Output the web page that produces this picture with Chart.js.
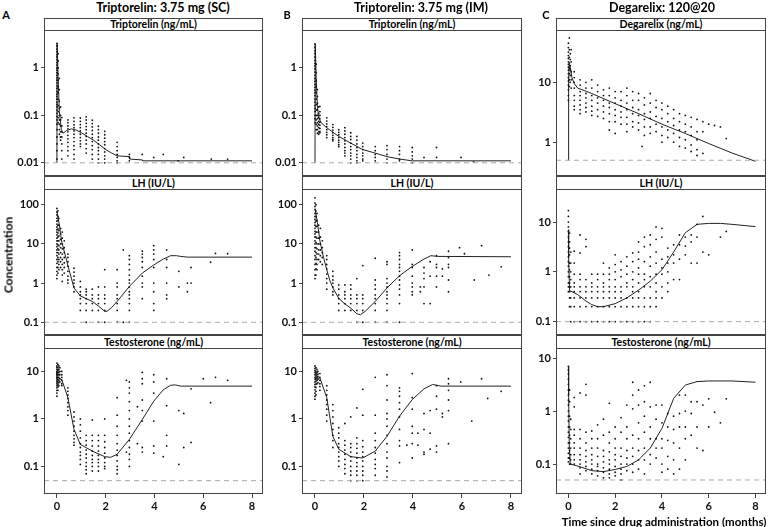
<!DOCTYPE html>
<html>
<head>
<meta charset="utf-8">
<script src="https://cdn.jsdelivr.net/npm/chart.js@4.4.1/dist/chart.umd.min.js"></script>
<style>
  body { margin: 0; background: #fff; width: 770px; height: 527px; position: relative; overflow: hidden; font-family: Lato, "DejaVu Sans", sans-serif; }
  canvas { position: absolute; }
  .strip { position: absolute; box-sizing: border-box; border: 1px solid #444; background: #fff; text-align: center; font-weight: bold; font-size: 10.5px; }
  .lbl { position: absolute; font-weight: bold; white-space: nowrap; transform: translate(-50%, -50%); }
</style>
</head>
<body>
<script>
// ---- data (time in months) ----
var xTicks = [0, 2, 4, 6, 8];
var xTickLabels = ["0", "2", "4", "6", "8"];

// Triptorelin 3.75 mg SC
var trpScTrpObs = [
  [0, [3.3,2.9,2.5,2.2,1.9,1.7,1.5,1.3,1.15,1.0,0.9,0.8,0.7,0.62,0.55,0.48,0.42,0.37,0.32,0.28,0.25,0.22,0.19,0.17,0.15,0.13,0.11,0.095,0.08,0.065,0.05,0.035,0.025,0.018,0.012]],
  [0.05, [2.0,1.4,1.0,0.75,0.55,0.4,0.3,0.22,0.16,0.12,0.09,0.07]],
  [0.1, [0.6,0.35,0.2,0.14,0.1,0.08,0.065,0.05,0.04]],
  [0.15, [0.15,0.1,0.08,0.06,0.045,0.035,0.03]],
  [0.2, [0.09,0.06,0.045,0.035,0.025,0.018,0.012]],
  [0.45, [0.08,0.07,0.06,0.052,0.045,0.038,0.032,0.027,0.022,0.018,0.014]],
  [0.7, [0.089,0.075,0.063,0.055,0.047,0.04,0.034,0.028,0.023,0.019,0.015,0.012]],
  [0.96, [0.088,0.075,0.064,0.055,0.047,0.04,0.034,0.029,0.025,0.022]],
  [1.2, [0.093,0.08,0.068,0.058,0.05,0.042,0.036,0.03,0.025,0.02,0.016]],
  [1.45, [0.079,0.067,0.057,0.048,0.04,0.034,0.028,0.023,0.019,0.015,0.012]],
  [1.7, [0.059,0.05,0.042,0.035,0.03,0.025,0.021,0.018,0.015,0.012,0.01]],
  [1.96, [0.046,0.039,0.033,0.028,0.024,0.02,0.017,0.014,0.012,0.01]],
  [2.47, [0.027,0.022,0.018,0.015,0.013,0.011,0.01]],
  [2.97, [0.015,0.013,0.011]],
  [3.5, [0.015]], [3.97, [0.013]], [4.36, [0.015]], [4.97, [0.011]],
  [5.2, [0.013]], [6.33, [0.012]], [7.0, [0.012]]
];
var trpScTrpFit = [[0,0.01],[0.01,3.3],[0.05,0.6],[0.1,0.12],[0.18,0.05],[0.25,0.042],[0.4,0.048],[0.6,0.052],[0.8,0.049],[1.0,0.043],[1.25,0.036],[1.5,0.03],[1.75,0.024],[2.0,0.019],[2.25,0.016],[2.47,0.014],[2.97,0.0135],[2.98,0.012],[3.5,0.0115],[3.51,0.011],[8,0.011]];

var trpScLhObs = [
  [0, [80,65,55,45,38,32,27,23,20,17,14,12,10,8.5,7,6,5,4,3.2,2.5,2,1.6,1.3]],
  [0.04, [70,50,40,30,24,19,15,12,9.5,7.5,6,4.5,3.5,2.5,1.8]],
  [0.08, [45,30,22,16,12,9,7,5.5,4,3,2.2]],
  [0.15, [25,18,13,10,8,6,4.5,3.5,2.5]],
  [0.22, [20,14,10,7.5,5.5,4,3,2.2,1.6,1.1]],
  [0.3, [12,8,6,4.5,3.3,2.5,1.8]],
  [0.45, [5.5,4.5,3.5,2.7,2.0,1.5,1.2,1.0]],
  [0.7, [2.4,1.9,1.5,1.2,1.0,0.8,0.6]],
  [0.96, [1.1,0.8,0.6,0.5,0.4,0.3,0.2]],
  [1.2, [0.7,0.6,0.5,0.4,0.3,0.2,0.1]],
  [1.45, [0.7,0.5,0.4,0.3,0.2]],
  [1.7, [0.8,0.5,0.4,0.3,0.2,0.1]],
  [1.96, [2.2,0.8,0.5,0.4,0.3,0.2,0.1]],
  [2.47, [2.2,1.0,0.8,0.5,0.4,0.3,0.2,0.1]],
  [2.72, [7,0.1]],
  [2.97, [5,4,3,2.2,1.6,1.2,1.0,0.8,0.6,0.5,0.4,0.3,0.2,0.1]],
  [3.5, [6.5,5.5,4.5,3.5,2.5,1.5,1.0,0.8,0.4]],
  [3.97, [9,7,5.5,4,2.5,1.0,0.6,0.3,0.2]],
  [4.5, [7,4,2.5,1.0,0.5,0.4]],
  [5.0, [2.0,0.8]], [5.35, [1.0,0.6]], [5.5, [2.5,1.0]],
  [6.3, [3.4]], [6.5, [5.7]], [7.0, [5.6]]
];
var trpScLhFit = [[0,70],[0.1,30],[0.2,11],[0.3,6.5],[0.45,2.8],[0.7,0.75],[0.96,0.47],[1.2,0.4],[1.45,0.34],[1.7,0.26],[1.96,0.19],[2.05,0.19],[2.25,0.24],[2.47,0.34],[2.97,0.82],[3.5,1.8],[3.97,2.9],[4.36,4.1],[4.66,5.0],[4.9,5.0],[5.07,4.8],[5.34,4.6],[8,4.6]];

var trpScTestoObs = [
  [0, [15,13,12,11,10,9.5,9,8.5,8,7.5,7,6.5,6,5.5,5,4.5,4,3.5,3]],
  [0.04, [14,12,10.5,9.5,8.5,7.5,6.8,6,5.3,4.7,4]],
  [0.08, [13,11,9.5,8.5,7.5,6.5,5.8,5]],
  [0.12, [12,10,8.5,7,6]],
  [0.2, [10,8.5,7.5,6.5,5.5,5]],
  [0.45, [4.5,3.8,3.2,2.7,2.2,1.8,1.5,1.2]],
  [0.7, [1.4,1.1,0.9,0.7,0.55,0.45,0.38,0.32,0.28]],
  [0.96, [1.0,0.75,0.55,0.4,0.3,0.25,0.2,0.17,0.14,0.11]],
  [1.2, [0.45,0.35,0.28,0.22,0.18,0.15,0.12,0.1,0.085,0.07]],
  [1.45, [0.95,0.45,0.35,0.27,0.21,0.17,0.14,0.12,0.1,0.08]],
  [1.7, [0.45,0.35,0.27,0.21,0.17,0.14,0.12,0.1,0.08]],
  [1.96, [1.0,0.45,0.33,0.25,0.19,0.15,0.12,0.1,0.09]],
  [2.47, [2.8,1.2,0.7,0.45,0.3,0.22,0.17,0.13,0.1,0.085,0.07]],
  [2.85, [6.5,0.2]],
  [2.97, [6,4.5,3.5,2.3,1.5,1.0,0.7,0.5,0.35,0.25,0.18,0.14,0.1]],
  [3.3, [1.8,0.3]],
  [3.5, [9.5,7,5.5,2.5,1.5,0.9,0.25,0.2]],
  [3.97, [8.5,6,3.5,0.9,0.27,0.19]],
  [4.36, [0.16]], [4.5, [7,1.9,0.45,0.27]],
  [5.0, [1.5,0.11]], [5.2, [1.3,0.25]], [5.5, [4.3,0.32]],
  [6.0, [7]], [6.3, [2.2]], [6.5, [7.5]], [7.0, [6.5]]
];
var trpScTestoFit = [[0,7.5],[0.2,6.7],[0.45,2.8],[0.7,0.6],[0.96,0.29],[1.45,0.21],[1.96,0.16],[2.2,0.155],[2.47,0.18],[2.97,0.37],[3.5,0.97],[3.97,2.36],[4.36,4.1],[4.66,5.1],[4.85,5.2],[5.07,4.9],[8,4.9]];

// Triptorelin 3.75 mg IM
var trpImTrpObs = [
  [0, [3.2,2.7,2.3,2.0,1.7,1.45,1.25,1.1,0.95,0.82,0.7,0.6,0.52,0.45,0.39,0.34,0.3,0.26,0.22,0.19,0.16,0.14,0.12,0.1,0.085,0.07]],
  [0.05, [1.2,0.8,0.55,0.4,0.3,0.22,0.17,0.13,0.1,0.08,0.065,0.05]],
  [0.1, [0.35,0.25,0.18,0.13,0.1,0.085,0.07,0.06,0.05,0.042]],
  [0.15, [0.15,0.11,0.09,0.075,0.065,0.055,0.045,0.04]],
  [0.2, [0.155,0.12,0.1,0.085,0.072,0.062,0.053,0.046,0.043]],
  [0.48, [0.089,0.076,0.066,0.058,0.05,0.044,0.039,0.034]],
  [0.73, [0.064,0.056,0.049,0.043,0.038,0.034,0.031,0.029]],
  [0.97, [0.05,0.044,0.039,0.034,0.03,0.027,0.024,0.022]],
  [1.22, [0.055,0.047,0.04,0.034,0.029,0.025,0.021,0.018,0.016,0.014]],
  [1.46, [0.043,0.036,0.031,0.026,0.022,0.019,0.016,0.014,0.012,0.01]],
  [1.71, [0.036,0.03,0.025,0.021,0.018,0.015,0.013,0.011,0.01]],
  [1.95, [0.026,0.022,0.019,0.016,0.014,0.012,0.011]],
  [2.46, [0.022,0.018,0.015,0.013,0.011]],
  [2.94, [0.023,0.019,0.015,0.012,0.01]],
  [3.45, [0.022,0.018,0.015,0.012,0.011]],
  [3.97, [0.021,0.017,0.014,0.012,0.01]],
  [4.45, [0.013]], [4.96, [0.021,0.013]], [5.96, [0.013]], [6.47, [0.0105]]
];
var trpImTrpFit = [[0,0.01],[0.01,3.2],[0.05,0.6],[0.1,0.15],[0.15,0.09],[0.25,0.07],[0.48,0.055],[0.97,0.036],[1.46,0.026],[1.95,0.019],[2.46,0.016],[2.94,0.0135],[3.45,0.012],[3.97,0.011],[8,0.011]];

var trpImLhObs = [
  [0, [150,110,90,75,60,50,42,35,30,25,21,18,15,12,10,8,6.5,5,4,3,2.2,1.6,1.3]],
  [0.04, [100,70,50,38,28,20,15,11,8,6,4.5,3.2,2.3,1.6]],
  [0.08, [60,40,28,20,14,10,7.5,5.5,4,3,2.2]],
  [0.15, [30,20,14,10,7,5.5,4]],
  [0.22, [25,15,10,7,5,3.5]],
  [0.3, [12,8,6,4.5,3]],
  [0.48, [5,4,3,2.3,1.7,1.3,1.0,0.7]],
  [0.73, [2,1.5,1.2,1.0,0.8,0.6,0.5]],
  [0.97, [0.9,0.7,0.5,0.4,0.3,0.2]],
  [1.22, [0.9,0.6,0.5,0.4,0.3,0.2]],
  [1.46, [0.9,0.7,0.5,0.4,0.3,0.2]],
  [1.71, [1.3,0.5,0.4,0.3,0.2,0.1]],
  [1.95, [2.8,0.5,0.4,0.3,0.2,0.1]],
  [2.46, [4.3,1.2,0.9,0.7,0.5,0.4,0.3,0.2,0.1]],
  [2.94, [3.5,3,1.3,1.0,0.8,0.6,0.5,0.4,0.3,0.2,0.1]],
  [3.45, [6,5,4,3,2.5,2,1.5,1.2,0.9,0.7,0.5,0.3,0.1]],
  [3.97, [7,3,2.5,1.5,1.0,0.8,0.6,0.5]],
  [4.3, [0.8,0.6]], [4.45, [2.5,1.8,1.3,0.8,0.3]], [4.7, [3.5,1.5,0.3]],
  [4.96, [5,3,2.5,1.5,0.8]], [5.2, [2.3,1.5]], [5.45, [6.5,4.5,3,2.5,1.2,0.6]],
  [5.9, [8]], [6.1, [5.6]], [6.5, [1.2]], [6.8, [9]], [7.1, [1.6]], [7.6, [2.6]]
];
var trpImLhFit = [[0,80],[0.1,35],[0.2,12],[0.35,4.5],[0.48,2.2],[0.6,1.2],[0.73,0.75],[0.97,0.41],[1.2,0.3],[1.46,0.23],[1.71,0.165],[1.85,0.155],[2.05,0.19],[2.46,0.34],[2.94,0.75],[3.45,1.54],[3.97,2.66],[4.45,4.1],[4.73,5.0],[5.0,4.8],[8,4.7]];

var trpImTestoObs = [
  [0, [13,11.5,10.5,9.5,8.5,7.5,6.8,6,5.3,4.7,4.1,3.5,3,2.6]],
  [0.04, [12,10,9,8,7,6.2,5.4,4.6,3.8,3.2]],
  [0.08, [11,9.5,8.5,7.5,6.5,5.5]],
  [0.12, [10,8.8,7.8,6.8,5.8]],
  [0.2, [9,7.5,6.5,5.5,4.8,4]],
  [0.48, [5,4,3.2,2.5,2,1.6,1.2,0.9]],
  [0.73, [2,1.5,1.1,0.8,0.6,0.45,0.35,0.25]],
  [0.97, [0.65,0.5,0.4,0.3,0.25,0.2,0.16,0.13,0.1]],
  [1.22, [0.8,0.35,0.28,0.22,0.18,0.14,0.11,0.09,0.07]],
  [1.46, [1.1,0.3,0.25,0.2,0.16,0.13,0.1,0.08,0.065,0.05]],
  [1.71, [1.7,0.4,0.3,0.24,0.19,0.15,0.12,0.1,0.08,0.065,0.05]],
  [1.95, [4.2,1.2,0.35,0.26,0.2,0.16,0.13,0.1,0.08,0.065,0.05]],
  [2.46, [7.5,1.2,0.5,0.35,0.25,0.19,0.14,0.11,0.09,0.065]],
  [2.94, [8.5,5,2.5,1.3,1.0,0.7,0.45,0.3,0.2,0.15,0.1,0.08,0.06]],
  [3.45, [4.5,3.8,3,2.2,1.6,1.1,0.6,0.35,0.27,0.12]],
  [3.75, [0.28]], [3.97, [9,2.8,1.6,0.7,0.5,0.3,0.15]], [4.2, [0.5,0.28]],
  [4.45, [1.3,0.6,0.2,0.18]], [4.7, [1.5,0.5,0.23]], [4.96, [5,3,1.6,0.27,0.2]],
  [5.2, [1.3,1.1]], [5.45, [7,5.5,4,2.5,1.5,0.3]], [5.95, [6]], [6.4, [0.9]],
  [6.8, [7]], [7.05, [2.7]], [7.6, [3.8]]
];
var trpImTestoFit = [[0,7],[0.2,7.3],[0.48,2.8],[0.73,0.43],[0.97,0.23],[1.46,0.16],[1.95,0.15],[2.46,0.21],[2.94,0.43],[3.45,1.14],[3.97,2.55],[4.45,4.3],[4.8,5.3],[5.14,4.9],[8,4.9]];

// Degarelix 120@20
var degDegObs = [
  [0, [45,38,32,28,25,22,20,18,16,14,12,10.5,9,7.5,6,5]],
  [0.04, [55,35,26,21,17,14,11,8.5]],
  [0.08, [30,24,19,16,13,10]],
  [0.12, [35,22,15,11,8]],
  [0.25, [15,12,10,8,6,5,4,3.5]],
  [0.5, [11,9,7,6,5,4.2,3.5,3]],
  [0.75, [10,8,6.5,5.5,4.5,3.8,3.2]],
  [1.0, [11,8,6,5,4,3.3,2.8]],
  [1.25, [9,7,5.5,4.5,3.5,2.7]],
  [1.5, [7.5,6,5,4,3.2,2.5]],
  [1.75, [8,6,4.5,3.8,3,2.2,1.6]],
  [2.0, [7,5.5,4.5,3.5,2.8,2.2,1.4]],
  [2.25, [7,5,4,3.2,2.6,2]],
  [2.5, [8,6,4.5,3.5,2.6,2,1.5]],
  [2.75, [7,5,3.8,3,2.2,1.8]],
  [3.0, [6.5,5,3.5,2.8,2.1,1.6]],
  [3.15, [0.85]],
  [3.25, [5.5,4.2,3,2.4,1.8,1.3]],
  [3.5, [6.5,4.5,3.2,2.5,1.8,1.4]],
  [3.75, [5,3.8,2.7,2,1.5]],
  [4.0, [4.5,3.5,2.5,1.8,1.3,1.0]],
  [4.25, [4,3,2.2,1.6,1.2]],
  [4.5, [3.5,2.5,1.9,1.4,1.0]],
  [4.75, [3,2.2,1.6,1.2,0.85]],
  [5.0, [2.8,2,1.5,1.1,0.8]],
  [5.25, [2.6,1.8,1.3,0.9,0.7]],
  [5.5, [2.4,1.5,1.1,0.75,0.6]],
  [5.75, [2.2,1.5,0.65]],
  [6.0, [2.0]], [6.25, [1.9]], [6.5, [1.8]], [6.75, [1.15]]
];
var degDegFit = [[0,0.5],[0.01,12],[0.04,20],[0.08,18],[0.15,12],[0.25,9.5],[0.4,8],[0.75,7.1],[1,6.5],[2,4.4],[3,3.0],[4,2.0],[5,1.4],[6,0.95],[7,0.66],[8,0.48]];

var degLhObs = [
  [0, [17,13,10,8,6.5,5,4,3.2,2.5,2,1.6,1.3,1.0,0.8,0.6,0.5,0.4]],
  [0.05, [6,4,3,2.2,1.5,1.1,0.8,0.6,0.5,0.4,0.3,0.2]],
  [0.1, [2.5,1.5,1.0,0.7,0.5,0.3,0.2,0.1]],
  [0.25, [2.6,1.5,0.9,0.6,0.5,0.4,0.3,0.2,0.1]],
  [0.5, [5.5,2.4,0.9,0.7,0.5,0.4,0.3,0.2,0.1]],
  [0.75, [4.5,3.2,0.7,0.5,0.4,0.3,0.2,0.1]],
  [1.0, [0.9,0.6,0.5,0.4,0.3,0.2,0.1]],
  [1.25, [0.9,0.7,0.5,0.4,0.3,0.2,0.1]],
  [1.5, [1.5,0.9,0.6,0.5,0.4,0.3,0.2,0.1]],
  [1.75, [1.2,0.9,0.7,0.5,0.4,0.3,0.2,0.1]],
  [2.0, [2.2,1.4,1.0,0.7,0.5,0.4,0.3,0.2,0.1]],
  [2.25, [1.6,1.1,0.8,0.5,0.4,0.3,0.2,0.1]],
  [2.5, [2.0,1.3,0.9,0.6,0.5,0.3,0.2,0.1]],
  [2.75, [2.4,1.6,1.0,0.7,0.5,0.4,0.3,0.2,0.1]],
  [3.0, [4,2.5,1.8,1.2,0.9,0.6,0.4,0.3,0.2,0.1]],
  [3.25, [5,3.2,1.6,0.9,0.7,0.5,0.3,0.2,0.1]],
  [3.5, [5.5,3.5,2,1.3,0.8,0.5,0.3,0.2,0.1]],
  [3.75, [8,4.5,2.5,1.5,0.9,0.6,0.4,0.3,0.2]],
  [4.0, [7.5,5,1.8,1.2,0.9,0.5,0.3]],
  [4.25, [3,2,1.5,1,0.6,0.4]],
  [4.5, [3.5,2.2,1.5,0.7]],
  [4.75, [5.5,3.5,1.8,0.7]],
  [5.0, [5,3.3,2.2]],
  [5.25, [5.5,4,1.5]],
  [5.5, [9,5,1.5]],
  [5.75, [13,2.5]],
  [6.0, [2.2]], [6.5, [5]], [6.75, [6.5]]
];
var degLhFit = [[0,7],[0.01,2],[0.05,0.42],[0.15,0.4],[0.4,0.35],[0.75,0.26],[1,0.22],[1.25,0.2],[1.5,0.2],[2,0.23],[2.5,0.3],[3,0.43],[3.5,0.65],[4,1.1],[4.5,2.5],[5,6.1],[5.5,9],[6,9.4],[6.5,9.4],[7,9],[8,8.1]];

var degTestoObs = [
  [0, [7,6,5,4,3.2,2.5,2,1.6,1.3,1,0.8,0.65,0.5,0.4,0.32,0.25,0.2,0.16,0.13,0.11]],
  [0.05, [2.5,1.5,0.8,0.5,0.35,0.25,0.18,0.13,0.1]],
  [0.1, [0.7,0.45,0.3,0.2,0.15,0.12,0.1]],
  [0.25, [1.8,1.2,0.45,0.35,0.25,0.2,0.15,0.12,0.1]],
  [0.5, [2.2,0.45,0.3,0.2,0.15,0.12,0.1,0.085,0.065]],
  [0.75, [3.2,2.0,0.4,0.25,0.18,0.14,0.11,0.09,0.075]],
  [1.0, [0.42,0.3,0.2,0.15,0.12,0.1,0.08,0.065]],
  [1.25, [0.55,0.3,0.2,0.14,0.1,0.09,0.075,0.06]],
  [1.5, [0.7,0.35,0.18,0.14,0.11,0.085,0.07,0.055]],
  [1.75, [1.4,0.4,0.25,0.17,0.12,0.1,0.08,0.065,0.055]],
  [2.0, [0.5,0.3,0.2,0.15,0.12,0.09,0.07,0.06]],
  [2.25, [0.75,0.4,0.2,0.14,0.1,0.08,0.065,0.05]],
  [2.5, [1.3,0.5,0.3,0.18,0.13,0.1,0.075]],
  [2.75, [3.5,2,1.1,0.35,0.2,0.14,0.1,0.07]],
  [3.0, [2.5,1.3,0.6,0.3,0.18,0.12,0.08]],
  [3.25, [3,1.5,0.8,0.4,0.2,0.12,0.065]],
  [3.5, [3.5,1.2,0.5,0.3,0.15,0.1]],
  [3.75, [1.3,0.7,0.3,0.2,0.13]],
  [4.0, [1.3,0.6,0.3,0.2,0.1,0.07]],
  [4.25, [0.9,0.5,0.28,0.14,0.08]],
  [4.5, [0.8,0.45,0.25,0.12,0.065]],
  [4.75, [2,0.9,0.5,0.2,0.08]],
  [5.0, [2,1,0.5,0.3,0.12]],
  [5.25, [1.5,0.9,0.35]],
  [5.5, [1.5,0.5,0.2]],
  [5.75, [1.3,0.18]],
  [6.0, [1.7,0.5]], [6.25, [0.95]], [6.5, [0.6]], [6.75, [1.7]]
];
var degTestoFit = [[0,7],[0.01,2],[0.04,0.2],[0.08,0.1],[0.5,0.089],[1,0.075],[1.5,0.072],[2,0.079],[2.5,0.09],[3,0.12],[3.5,0.2],[4,0.47],[4.5,1.73],[5,3.1],[5.5,3.6],[6,3.7],[7,3.7],[8,3.5]];

// limits of quantification (dashed lines)
var lloq = { trp: 0.01, deg: 0.5, lh: 0.1, testo: 0.05 };

// tick values / labels per row
var trpTicks = [0.01, 0.1, 1], trpTickLabels = ["0.01", "0.1", "1"];
var degTicks = [1, 10], degTickLabels = ["1", "10"];
var lhTicks = [0.1, 1, 10, 100], lhTickLabels = ["0.1", "1", "10", "100"];
var lhDegTicks = [0.1, 1, 10], lhDegTickLabels = ["0.1", "1", "10"];
var testoTicks = [0.1, 1, 10], testoTickLabels = ["0.1", "1", "10"];

// ---- layout ----
var cols = [{ l: 44, r: 263 }, { l: 302, r: 522 }, { l: 556, r: 766 }];
var rows = [{ s: 18, t: 30, b: 176 }, { s: 176, t: 189, b: 335 }, { s: 335, t: 348, b: 494 }];
var X_MIN = -0.53, X_MAX = 8.45;
var AXW = 44;
var FONT = "Lato, 'DejaVu Sans', sans-serif";

function toPoints(cols) {
  var pts = [];
  cols.forEach(function(c) { c[1].forEach(function(y) { pts.push({ x: c[0], y: y }); }); });
  return pts;
}

var boxPlugin = {
  id: "box",
  afterDraw: function(chart) {
    var a = chart.chartArea, ctx = chart.ctx;
    ctx.save();
    ctx.strokeStyle = "#444";
    ctx.lineWidth = 1;
    ctx.strokeRect(Math.round(a.left) + 0.5, Math.round(a.top) + 0.5, Math.round(a.right - a.left) - 1, Math.round(a.bottom - a.top) - 1);
    ctx.restore();
  }
};

function panel(ci, ri, strip, obs, fit, lq, yMin, yMax, ticks, tickLabels) {
  var c = cols[ci], r = rows[ri];
  var bottom = ri === 2;
  var w = c.r - c.l, h = r.b - r.t;
  var cv = document.createElement("canvas");
  cv.width = w + AXW;
  cv.height = h + (bottom ? 24 : 0);
  cv.style.left = (c.l - AXW) + "px";
  cv.style.top = r.t + "px";
  document.body.appendChild(cv);

  var st = document.createElement("div");
  st.className = "strip";
  st.style.left = c.l + "px";
  st.style.top = r.s + "px";
  st.style.width = w + "px";
  st.style.height = (r.t - r.s + 1) + "px";
  st.style.lineHeight = (r.t - r.s - 1) + "px";
  st.textContent = strip;
  document.body.appendChild(st);

  new Chart(cv, {
    type: "scatter",
    data: {
      datasets: [
        { data: [{ x: X_MIN, y: lq }, { x: X_MAX, y: lq }], showLine: true, borderColor: "#aaa", borderWidth: 1, borderDash: [5, 4], pointRadius: 0 },
        { data: toPoints(obs), showLine: false, pointRadius: 0.9, pointBackgroundColor: "#111", pointBorderWidth: 0 },
        { data: fit.map(function(p) { return { x: p[0], y: p[1] }; }), showLine: true, borderColor: "#222", borderWidth: 1, pointRadius: 0 }
      ]
    },
    options: {
      responsive: false,
      maintainAspectRatio: false,
      animation: false,
      events: [],
      layout: { autoPadding: false, padding: 0 },
      plugins: { legend: { display: false }, tooltip: { enabled: false } },
      scales: {
        x: {
          type: "linear", min: X_MIN, max: X_MAX, display: bottom,
          grid: { drawOnChartArea: false, tickLength: 4, color: "#444" },
          border: { display: false },
          ticks: { color: "#111", font: { family: FONT, weight: "bold", size: 11 }, padding: 2, maxRotation: 0, autoSkip: false,
                   callback: function(v, i) { return xTickLabels[i]; } },
          afterBuildTicks: function(s) { s.ticks = xTicks.map(function(v) { return { value: v }; }); },
          afterFit: function(s) { s.height = bottom ? 24 : 0; s.paddingLeft = 0; s.paddingRight = 0; }
        },
        y: {
          type: "logarithmic", min: yMin, max: yMax,
          grid: { drawOnChartArea: false, tickLength: 3, color: "#444" },
          border: { display: false },
          ticks: { color: "#111", font: { family: FONT, weight: "bold", size: 11 }, padding: 2, autoSkip: false,
                   callback: function(v, i) { return tickLabels[i]; } },
          afterBuildTicks: function(s) { s.ticks = ticks.map(function(v) { return { value: v }; }); },
          afterFit: function(s) { s.width = AXW; s.paddingTop = 0; s.paddingBottom = 0; }
        }
      }
    },
    plugins: [boxPlugin]
  });
}

function label(text, x, y, size, rot) {
  var d = document.createElement("div");
  d.className = "lbl";
  d.style.left = x + "px";
  d.style.top = y + "px";
  d.style.fontSize = size + "px";
  if (rot) d.style.transform = "translate(-50%, -50%) rotate(-90deg)";
  d.textContent = text;
  document.body.appendChild(d);
}

panel(0, 0, "Triptorelin (ng/mL)", trpScTrpObs, trpScTrpFit, lloq.trp, 0.00527, 6.31, trpTicks, trpTickLabels);
panel(0, 1, "LH (IU/L)", trpScLhObs, trpScLhFit, lloq.lh, 0.0473, 252, lhTicks, lhTickLabels);
panel(0, 2, "Testosterone (ng/mL)", trpScTestoObs, trpScTestoFit, lloq.testo, 0.0262, 31.1, testoTicks, testoTickLabels);
panel(1, 0, "Triptorelin (ng/mL)", trpImTrpObs, trpImTrpFit, lloq.trp, 0.00527, 6.31, trpTicks, trpTickLabels);
panel(1, 1, "LH (IU/L)", trpImLhObs, trpImLhFit, lloq.lh, 0.0473, 252, lhTicks, lhTickLabels);
panel(1, 2, "Testosterone (ng/mL)", trpImTestoObs, trpImTestoFit, lloq.testo, 0.0262, 31.1, testoTicks, testoTickLabels);
panel(2, 0, "Degarelix (ng/mL)", degDegObs, degDegFit, lloq.deg, 0.273, 74.7, degTicks, degTickLabels);
panel(2, 1, "LH (IU/L)", degLhObs, degLhFit, lloq.lh, 0.054, 46.1, lhDegTicks, lhDegTickLabels);
panel(2, 2, "Testosterone (ng/mL)", degTestoObs, degTestoFit, lloq.testo, 0.0272, 15.5, testoTicks, testoTickLabels);

label("A", 6, 14, 11);
label("B", 287, 14, 11);
label("C", 546, 14, 11);
label("Triptorelin: 3.75 mg (SC)", 163, 7, 12.5);
label("Triptorelin: 3.75 mg (IM)", 421, 7, 12.5);
label("Degarelix: 120@20", 662, 7, 12.5);
label("Concentration", 8, 255, 12, true);
label("Time since drug administration (months)", 664, 521, 11.5);
</script>
</body>
</html>
